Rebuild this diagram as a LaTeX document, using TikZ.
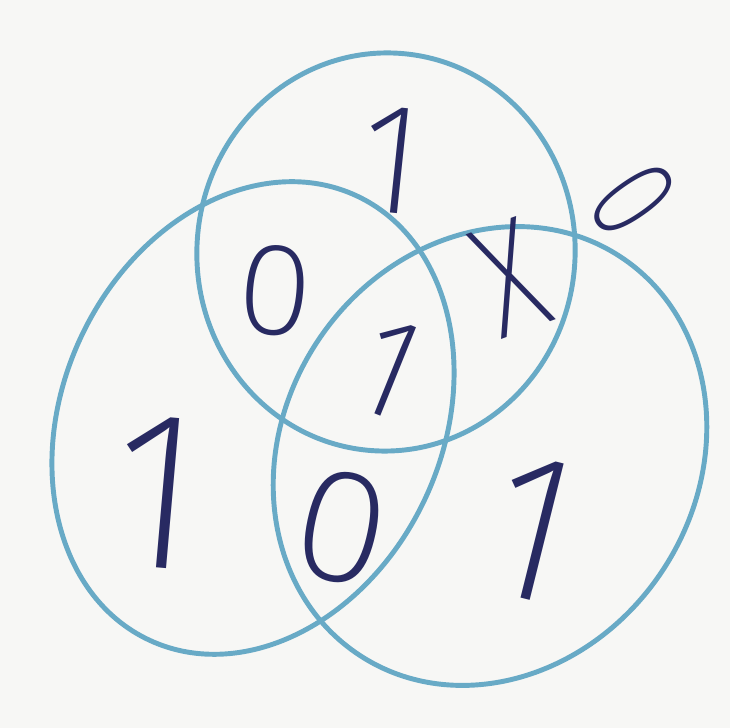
\documentclass[tikz,border=0pt]{standalone}
\usepackage{fontspec}
\setmainfont{Open Sans Light}
\usepackage{xcolor}
\usepackage{tikz}
\usetikzlibrary{shapes.geometric}

\definecolor{paper}{RGB}{247,247,245}
\definecolor{pen}{RGB}{104,170,198}
\definecolor{ink}{RGB}{40,42,98}

\begin{document}
\begin{tikzpicture}[
    x=0.01cm, y=-0.01cm,
    % sets and entries
    set/.style={ellipse, draw=pen, line width=1.4pt, inner sep=0pt},
    digit/.style={font=\fontsize{#1}{#1}\selectfont, text=ink, inner sep=0pt},
]

% paper
\fill[paper] (0,0) rectangle (730,728);
\useasboundingbox (0,0) rectangle (730,728);

% the three sets
\node[set, minimum width=3.78cm, minimum height=3.98cm, rotate=-4] (T) at (386,252) {};
\node[set, minimum width=3.80cm, minimum height=4.90cm, rotate=-25] (L) at (253,418) {};
\node[set, minimum width=4.14cm, minimum height=4.76cm, rotate=-33] (R) at (490,456) {};

% entries of the regions
\node[digit=42, rotate=-6] (tOnly) at (396,160) {1};
\node[digit=35, rotate=-5] (tl) at (275,291) {0};
\node[digit=44, rotate=20, xscale=0.7] (tr) at (510,278) {X};
\node[digit=38, rotate=-22] (tlr) at (393,370) {1};
\node[digit=60, rotate=-5] (lOnly) at (163,493) {1};
\node[digit=43, rotate=-12] (lr) at (342,528) {0};
\node[digit=56, rotate=-14] (rOnly) at (538,530) {1};
\node[digit=34, rotate=-55, xscale=0.7] (outside) at (633,200) {0};

\end{tikzpicture}
\end{document}
